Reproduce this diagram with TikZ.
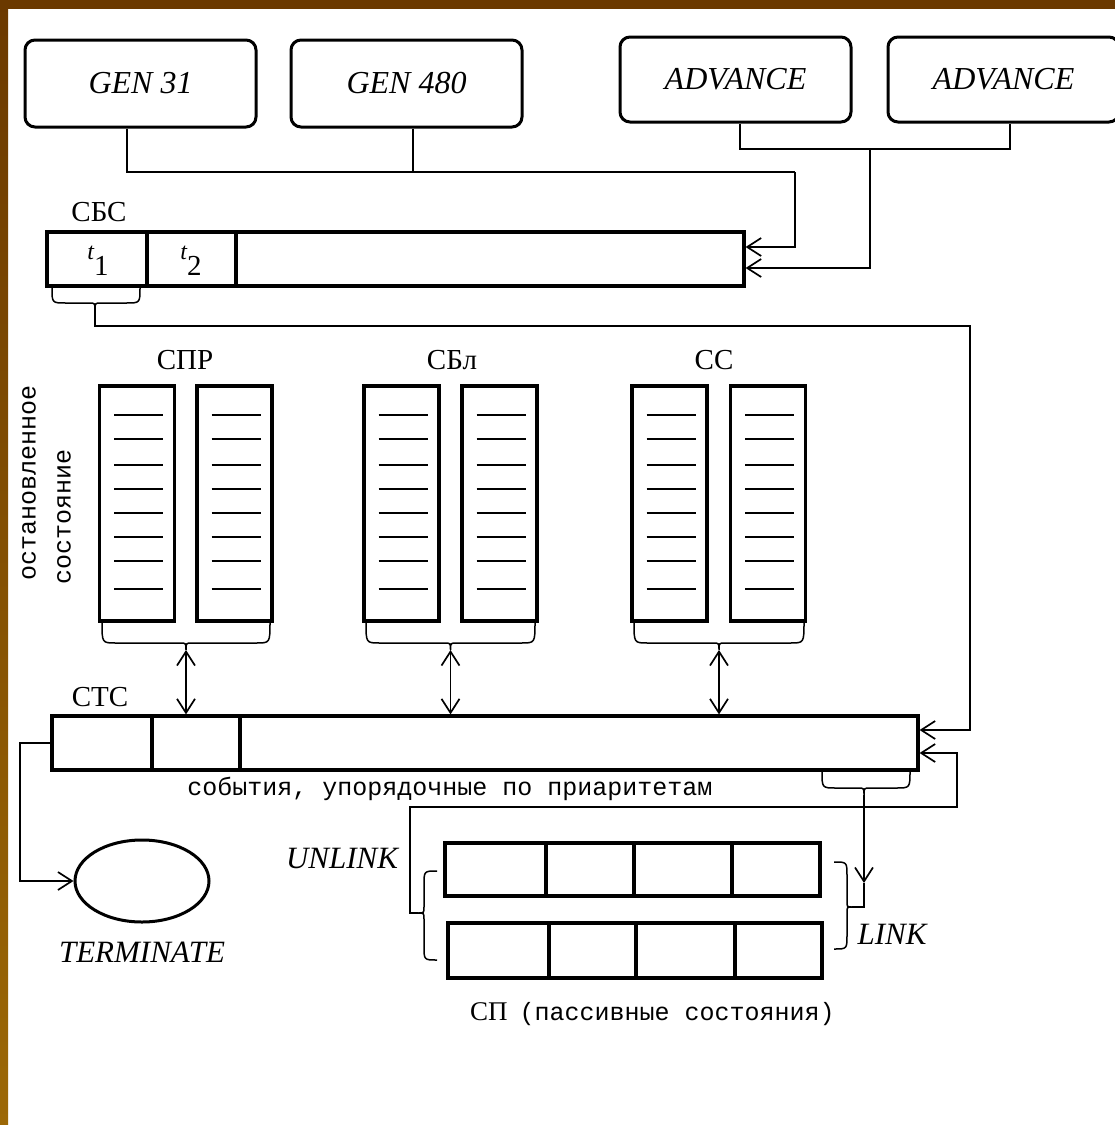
\documentclass[tikz,border=0pt]{standalone}
\usepackage{fontspec}
\setmainfont{Liberation Serif}
\newfontfamily\monof{Liberation Mono}
\usetikzlibrary{arrows.meta,shapes.geometric}
\definecolor{brownT}{RGB}{107,57,0}
\definecolor{brownB}{RGB}{156,104,6}
\newcommand\hbrc[6]{%
  \draw[brc] (#1,#4) .. controls (#1,{#4+#5}) .. ({#1+14},{#4+#5}) -- ({#3-6},{#4+#5}) .. controls (#3,{#4+#5}) .. (#3,{#4+#5+7})
     .. controls (#3,{#4+#5}) .. ({#3+6},{#4+#5}) -- ({#2-14},{#4+#5}) .. controls (#2,{#4+#5}) .. (#2,#4);
  \coordinate (#6) at (#3,{#4+#5+7});
}
\newcommand\vbrc[7]{%
  \draw[brc] (#1,#4) .. controls (#2,#4) .. (#2,{#4+14}) -- (#2,{#5-6}) .. controls (#2,#5) .. (#3,#5)
     .. controls (#2,#5) .. (#2,{#5+6}) -- (#2,{#6-14}) .. controls (#2,#6) .. (#1,#6);
  \coordinate (#7) at (#3,#5);
}
\newcommand\colm[2]{%
  \node[colbox] (#2) at (#1,503.5) {};
  \foreach \yy in {415,439,465,489,513,537,561,589} \draw[inln] ({#1-23},\yy) -- ({#1+26},\yy);
}
\begin{document}
\begin{tikzpicture}[x=1pt,y=-1pt,
  rbox/.style={draw, line width=3pt, rounded corners=10pt, inner sep=0pt,
    minimum width=231pt, font=\fontsize{32}{32}\selectfont\itshape},
  cellbar/.style={draw, line width=3.2pt, inner sep=0pt},
  colbox/.style={draw, line width=3.4pt, inner sep=0pt, minimum width=75pt, minimum height=235pt},
  inln/.style={line width=2pt},
  divl/.style={line width=3.2pt},
  conn/.style={line width=1.7pt},
  brc/.style={line width=1.5pt},
  lbl/.style={font=\fontsize{29}{29}\selectfont, inner sep=0pt},
  ilbl/.style={font=\fontsize{31}{31}\selectfont\itshape, inner sep=0pt},
  mlbl/.style={font=\monof\fontsize{25}{25}\selectfont, inner sep=0pt},
  >={Straight Barb[length=14pt,width=18pt]}
]
\useasboundingbox (0,0) rectangle (1115,1125);
\clip (0,0) rectangle (1115,1125);
\fill[white] (0,0) rectangle (1115,1125);
\fill[top color=brownT, bottom color=brownB] (0,0) rectangle (8,1125);
\fill[brownT] (0,0) rectangle (1115,9);

% top boxes
\node[rbox, minimum height=87pt] (gen31) at (140.5,83.5) {GEN 31};
\node[rbox, minimum height=87pt] (gen480) at (406.5,83.5) {GEN 480};
\node[rbox, minimum height=85pt] (adv1) at (735.5,79.5) {ADVANCE};
\node[rbox, minimum height=85pt] (adv2) at (1003.5,79.5) {ADVANCE};

% SBS
\node[lbl] (lsbs) at (99,212) {СБС};
\node[cellbar, minimum width=697pt, minimum height=54pt] (sbs) at (395.5,259) {};
\draw[divl] (147,232) -- (147,286);
\draw[divl] (236,232) -- (236,286);
\node[inner sep=0pt] (t1) at (98,261) {{\fontsize{24}{24}\selectfont\itshape t}\raisebox{-16pt}{\fontsize{29}{29}\selectfont 1}};
\node[inner sep=0pt] (t2) at (191,261) {{\fontsize{24}{24}\selectfont\itshape t}\raisebox{-16pt}{\fontsize{29}{29}\selectfont 2}};

\coordinate (j1) at (795,172);
\coordinate (j2) at (870,149);
\draw[conn] ([xshift=-13.5pt]gen31.south) |- (j1);
\draw[conn] ([xshift=6.5pt]gen480.south) -- ([xshift=6.5pt]gen480.south |- j1);
\draw[conn,->] (j1) |- ([yshift=12pt]sbs.east);
\draw[conn] ([xshift=4.5pt]adv1.south) |- ([xshift=6.5pt]adv2.south |- j2) -- ([xshift=6.5pt]adv2.south);
\draw[conn,->] (j2) |- ([yshift=-9pt]sbs.east);

% columns
\node[lbl] (lspr) at (185,360) {СПР};
\node[lbl] (lsbl) at (452,360) {СБл};
\node[lbl] (lss) at (714,360) {СС};
\colm{137}{spr1}
\colm{234.5}{spr2}
\colm{401.5}{sbl1}
\colm{499.5}{sbl2}
\colm{669.5}{ss1}
\colm{768}{ss2}
\node[mlbl, rotate=90] (vt1) at (29,483) {остановленное};
\node[mlbl, rotate=90] (vt2) at (64,517) {состояние};

% STC
\node[lbl] (lstc) at (100,697) {СТС};
\node[cellbar, minimum width=866pt, minimum height=54pt] (stc) at (485,743) {};
\draw[divl] (152,716) -- (152,770);
\draw[divl] (240,716) -- (240,770);
\node[mlbl, anchor=base] (ev) at (450,795) {события, упорядочные по приаритетам};

\hbrc{102}{270}{186}{622}{21}{bspr}
\hbrc{366}{535}{450.5}{622}{21}{bsbl}
\hbrc{634}{804}{719}{622}{21}{bss}
\draw[conn,<->] (bspr) -- (bspr |- stc.north);
\draw[conn,<->] (bsbl) -- (bsbl |- stc.north);
\draw[conn,<->] (bss) -- (bss |- stc.north);

% SBS -> STC
\hbrc{52}{140}{95}{288}{15}{bt1}
\draw[conn,->] (bt1) |- (970,326) |- ([yshift=13pt]stc.east);

% TERMINATE
\node[draw, ellipse, line width=3pt, minimum width=134pt, minimum height=82pt, inner sep=0pt] (term) at (142,881) {};
\node[ilbl] (lterm) at (142,952) {TERMINATE};
\draw[conn,->] (stc.west) -- (20,743) |- (term.west);

% SP
\node[cellbar, minimum width=375pt, minimum height=53pt] (sp1) at (632.5,869.5) {};
\draw[divl] (546,843) -- (546,896);
\draw[divl] (634,843) -- (634,896);
\draw[divl] (732,843) -- (732,896);
\node[cellbar, minimum width=374pt, minimum height=55pt] (sp2) at (635,950.5) {};
\draw[divl] (549,923) -- (549,978);
\draw[divl] (636,923) -- (636,978);
\draw[divl] (735,923) -- (735,978);
\node[anchor=base west, inner sep=0pt] (lsp) at (470,1020) {{\fontsize{27}{27}\selectfont СП}\hspace{12pt}{\monof\fontsize{25}{25}\selectfont (пассивные состояния)}};

\node[ilbl] (lunl) at (342,858) {UNLINK};
\node[ilbl] (llink) at (892,934) {LINK};

\vbrc{437}{424}{418}{871}{913}{960}{ub}
\vbrc{834}{847}{852}{862}{907}{949}{lb}
\draw[conn,->] (ub) -| (410,807) -| (957,753) -- ([yshift=-10pt]stc.east);

\hbrc{822}{910}{864}{771}{17}{bstc}
\coordinate (lk) at (864,883);
\draw[conn,->] (bstc) -- (lk);
\draw[conn] (lb) -| (lk);
\end{tikzpicture}
\end{document}
